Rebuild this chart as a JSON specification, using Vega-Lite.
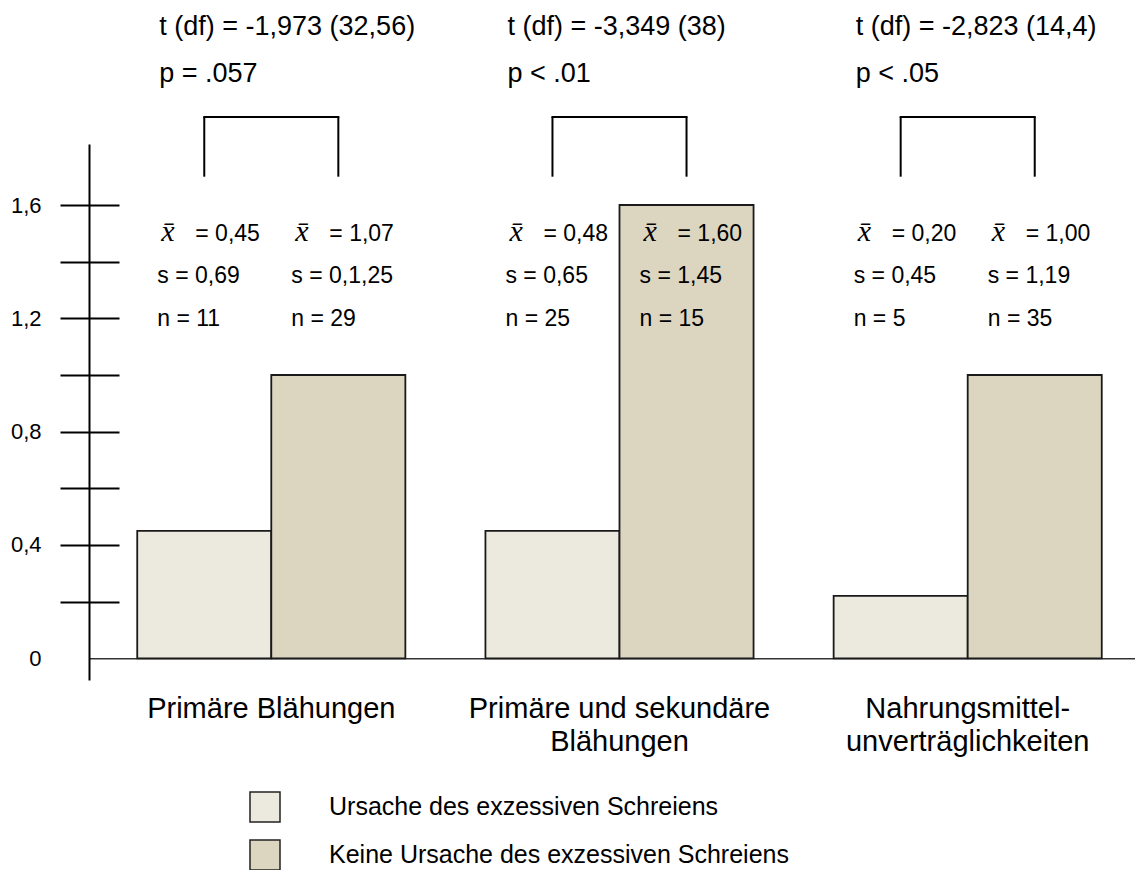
{
  "$schema": "https://vega.github.io/schema/vega-lite/v6.json",
  "width": 1046,
  "height": 536,
  "autosize": "none",
  "padding": {"left": 89, "top": 144, "right": 0, "bottom": 190},
  "background": "white",
  "config": {
    "view": {"stroke": null},
    "font": "Liberation Sans",
    "text": {"color": "#000"}
  },
  "data": {
    "values": [
      {"gruppe": "Primäre Blähungen", "ursache": "Ursache des exzessiven Schreiens", "wert": 0.45, "mittel": "= 0,45", "s": "s = 0,69", "n": "n = 11", "t": "t (df) = -1,973 (32,56)", "p": "p = .057"},
      {"gruppe": "Primäre Blähungen", "ursache": "Keine Ursache des exzessiven Schreiens", "wert": 1.0, "mittel": "= 1,07", "s": "s = 0,1,25", "n": "n = 29"},
      {"gruppe": "Primäre und sekundäre Blähungen", "ursache": "Ursache des exzessiven Schreiens", "wert": 0.45, "mittel": "= 0,48", "s": "s = 0,65", "n": "n = 25", "t": "t (df) = -3,349 (38)", "p": "p < .01"},
      {"gruppe": "Primäre und sekundäre Blähungen", "ursache": "Keine Ursache des exzessiven Schreiens", "wert": 1.6, "mittel": "= 1,60", "s": "s = 1,45", "n": "n = 15"},
      {"gruppe": "Nahrungsmittelunverträglichkeiten", "ursache": "Ursache des exzessiven Schreiens", "wert": 0.22, "mittel": "= 0,20", "s": "s = 0,45", "n": "n = 5", "t": "t (df) = -2,823 (14,4)", "p": "p < .05"},
      {"gruppe": "Nahrungsmittelunverträglichkeiten", "ursache": "Keine Ursache des exzessiven Schreiens", "wert": 1.0, "mittel": "= 1,00", "s": "s = 1,19", "n": "n = 35"}
    ]
  },
  "encoding": {
    "x": {
      "field": "gruppe",
      "type": "nominal",
      "scale": {
        "domain": ["Primäre Blähungen", "Primäre und sekundäre Blähungen", "Nahrungsmittelunverträglichkeiten"],
        "paddingInner": 0.23,
        "paddingOuter": 0.117,
        "align": 0.592
      },
      "axis": {
        "orient": "bottom",
        "offset": -21.7,
        "title": null,
        "domain": true,
        "domainColor": "#333",
        "domainWidth": 1.5,
        "ticks": false,
        "labelAngle": 0,
        "labelFont": "Liberation Sans",
        "labelFontSize": 29,
        "labelColor": "#000",
        "labelPadding": 36,
        "labelLimit": 0,
        "labelLineHeight": 33,
        "labelExpr": "datum.value == 'Primäre und sekundäre Blähungen' ? ['Primäre und sekundäre', 'Blähungen'] : (datum.value == 'Nahrungsmittelunverträglichkeiten' ? ['Nahrungsmittel-', 'unverträglichkeiten'] : datum.label)"
      }
    },
    "xOffset": {
      "field": "ursache",
      "type": "nominal",
      "scale": {
        "domain": ["Ursache des exzessiven Schreiens", "Keine Ursache des exzessiven Schreiens"],
        "paddingInner": 0,
        "paddingOuter": 0
      }
    }
  },
  "layer": [
    {
      "mark": {"type": "bar", "stroke": "#1a1a1a", "strokeWidth": 1.8},
      "encoding": {
        "y": {
          "field": "wert",
          "type": "quantitative",
          "scale": {"domain": [-0.0766, 1.8154], "nice": false, "zero": false},
          "axis": {
            "orient": "left",
            "offset": -30,
            "title": null,
            "grid": false,
            "domain": false,
            "values": [0, 0.2, 0.4, 0.6, 0.8, 1, 1.2, 1.4, 1.6],
            "tickSize": 59,
            "tickWidth": 2,
            "tickColor": "#000",
            "tickOpacity": {"condition": {"test": "datum.value == 0", "value": 0}, "value": 1},
            "labelFont": "Liberation Sans",
            "labelFontSize": 22,
            "labelColor": "#000",
            "labelPadding": 19,
            "labelExpr": "datum.value == 0 ? '0' : (round(datum.value * 10) % 4 == 0 ? replace(format(datum.value, '.1f'), '.', ',') : '')"
          }
        },
        "y2": {"datum": 0},
        "color": {
          "field": "ursache",
          "type": "nominal",
          "scale": {
            "domain": ["Ursache des exzessiven Schreiens", "Keine Ursache des exzessiven Schreiens"],
            "range": ["#ECE9DE", "#DCD5C0"]
          },
          "legend": {
            "orient": "none",
            "legendX": 160,
            "legendY": 647,
            "direction": "vertical",
            "title": null,
            "padding": 0,
            "symbolType": "square",
            "symbolSize": 900,
            "symbolStrokeColor": "#222",
            "symbolStrokeWidth": 1.5,
            "labelFont": "Liberation Sans",
            "labelFontSize": 25,
            "labelColor": "#000",
            "labelOffset": 48,
            "labelLimit": 0,
            "rowPadding": 12
          }
        }
      }
    },
    {
      "mark": {"type": "bar", "opacity": 0},
      "encoding": {
        "y": {
          "field": "wert",
          "type": "quantitative",
          "axis": {
            "orient": "left",
            "offset": 0,
            "title": null,
            "grid": false,
            "domain": true,
            "domainColor": "#000",
            "domainWidth": 2,
            "ticks": false,
            "labels": false
          }
        },
        "y2": {"datum": 0}
      }
    },
    {
      "mark": {"type": "rule", "stroke": "#000", "strokeWidth": 2},
      "encoding": {
        "y": {"datum": 1.70, "type": "quantitative", "axis": null},
        "y2": {"datum": 1.911}
      }
    },
    {
      "mark": {"type": "line", "stroke": "#000", "strokeWidth": 2, "strokeCap": "square"},
      "encoding": {
        "y": {"datum": 1.911, "type": "quantitative", "axis": null},
        "detail": {"field": "gruppe", "type": "nominal"}
      }
    },
    {
      "mark": {"type": "text", "font": "Liberation Serif", "fontStyle": "italic", "fontSize": 30, "align": "left", "baseline": "alphabetic", "dx": -43},
      "encoding": {
        "y": {"datum": 1.474, "type": "quantitative", "axis": null},
        "text": {"value": "x\u0304"}
      }
    },
    {
      "mark": {"type": "text", "fontSize": 23, "align": "left", "baseline": "alphabetic", "dx": -9},
      "encoding": {
        "y": {"datum": 1.474, "type": "quantitative", "axis": null},
        "text": {"field": "mittel"}
      }
    },
    {
      "mark": {"type": "text", "fontSize": 23, "align": "left", "baseline": "alphabetic", "dx": -47},
      "encoding": {
        "y": {"datum": 1.324, "type": "quantitative", "axis": null},
        "text": {"field": "s"}
      }
    },
    {
      "mark": {"type": "text", "fontSize": 23, "align": "left", "baseline": "alphabetic", "dx": -47},
      "encoding": {
        "y": {"datum": 1.173, "type": "quantitative", "axis": null},
        "text": {"field": "n"}
      }
    },
    {
      "transform": [{"filter": "datum.t != null"}],
      "mark": {"type": "text", "fontSize": 27, "align": "left", "baseline": "alphabetic", "dx": -45},
      "encoding": {
        "y": {"datum": 2.2, "type": "quantitative", "axis": null},
        "text": {"field": "t"}
      }
    },
    {
      "transform": [{"filter": "datum.p != null"}],
      "mark": {"type": "text", "fontSize": 27, "align": "left", "baseline": "alphabetic", "dx": -45},
      "encoding": {
        "y": {"datum": 2.035, "type": "quantitative", "axis": null},
        "text": {"field": "p"}
      }
    }
  ],
  "resolve": {"axis": {"y": "independent"}}
}
